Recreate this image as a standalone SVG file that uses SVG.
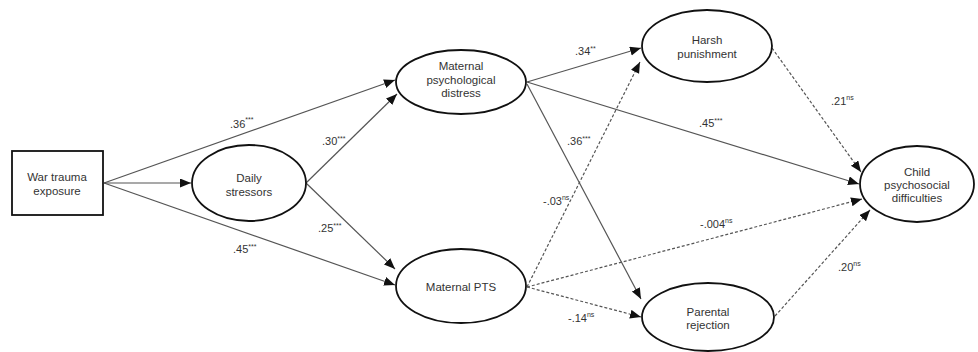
<svg xmlns="http://www.w3.org/2000/svg" width="978" height="352" viewBox="0 0 978 352">
<style>
.node{fill:#fff;stroke:#111;stroke-width:1.8}
.nt{font-family:"Liberation Sans",Arial,sans-serif;font-size:11.5px;fill:#333;text-anchor:middle}
.lbl{font-family:"Liberation Sans",Arial,sans-serif;font-size:11px;fill:#333}
.sup{font-size:7px}
.solid{stroke:#555;stroke-width:1.2;fill:none;marker-end:url(#ah)}
.dash{stroke:#555;stroke-width:1.2;fill:none;stroke-dasharray:3,2;marker-end:url(#ah)}
</style>
<defs>
<marker id="ah" markerUnits="userSpaceOnUse" markerWidth="12" markerHeight="10" refX="11" refY="4.5" orient="auto">
<path d="M0,0 L11,4.5 L0,9 Z" fill="#111"/>
</marker>
</defs>
<rect width="978" height="352" fill="#fff"/>
<g id="connectors">
<path class="solid" d="M104,183 L395,80"/>
<path class="solid" d="M104,183 L191,183"/>
<path class="solid" d="M104,183 L395,285"/>
<path class="solid" d="M306,183 L397,94"/>
<path class="solid" d="M306,183 L395,269"/>
<path class="solid" d="M527,82 L641,48"/>
<path class="solid" d="M527,82 L859,184"/>
<path class="solid" d="M527,84 L641,299"/>
<path class="dash" d="M527,287 L640,62"/>
<path class="dash" d="M527,287 L862,199"/>
<path class="dash" d="M527,287 L641,317"/>
<path class="dash" d="M772,48 L861,172"/>
<path class="dash" d="M775,316 L870,210"/>
</g>
<g id="labels">
<text class="lbl" x="230" y="128">.36<tspan class="sup" dy="-6">***</tspan></text>
<text class="lbl" x="322" y="145">.30<tspan class="sup" dy="-4">***</tspan></text>
<text class="lbl" x="233" y="253">.45<tspan class="sup" dy="-4">***</tspan></text>
<text class="lbl" x="318" y="232">.25<tspan class="sup" dy="-4">***</tspan></text>
<text class="lbl" x="575" y="55">.34<tspan class="sup" dy="-4">**</tspan></text>
<text class="lbl" x="567" y="145">.36<tspan class="sup" dy="-4">***</tspan></text>
<text class="lbl" x="699" y="127">.45<tspan class="sup" dy="-4">***</tspan></text>
<text class="lbl" x="543" y="205">-.03<tspan class="sup" dy="-5">ns</tspan></text>
<text class="lbl" x="700" y="228">-.004<tspan class="sup" dy="-5">ns</tspan></text>
<text class="lbl" x="568" y="322">-.14<tspan class="sup" dy="-5">ns</tspan></text>
<text class="lbl" x="831" y="105">.21<tspan class="sup" dy="-5">ns</tspan></text>
<text class="lbl" x="838" y="271">.20<tspan class="sup" dy="-5">ns</tspan></text>
</g>
<g id="war">
<rect class="node" x="12" y="151" width="91" height="64"/>
<text class="nt" x="57" y="181">War trauma</text>
<text class="nt" x="57" y="195">exposure</text>
</g>
<g id="daily">
<ellipse class="node" cx="249" cy="183" rx="57" ry="38"/>
<text class="nt" x="249" y="182">Daily</text>
<text class="nt" x="249" y="196">stressors</text>
</g>
<g id="mpd">
<ellipse class="node" cx="461" cy="82" rx="65" ry="32"/>
<text class="nt" x="461" y="70">Maternal</text>
<text class="nt" x="461" y="84">psychological</text>
<text class="nt" x="461" y="97">distress</text>
</g>
<g id="pts">
<ellipse class="node" cx="461" cy="286" rx="65" ry="37"/>
<text class="nt" x="461" y="291">Maternal PTS</text>
</g>
<g id="harsh">
<ellipse class="node" cx="707" cy="46" rx="65" ry="36"/>
<text class="nt" x="707" y="44">Harsh</text>
<text class="nt" x="707" y="58">punishment</text>
</g>
<g id="parental">
<ellipse class="node" cx="708" cy="317" rx="66" ry="34"/>
<text class="nt" x="708" y="316">Parental</text>
<text class="nt" x="708" y="329">rejection</text>
</g>
<g id="child">
<ellipse class="node" cx="917" cy="184" rx="57" ry="38"/>
<text class="nt" x="917" y="176">Child</text>
<text class="nt" x="917" y="189">psychosocial</text>
<text class="nt" x="917" y="202">difficulties</text>
</g>
</svg>
